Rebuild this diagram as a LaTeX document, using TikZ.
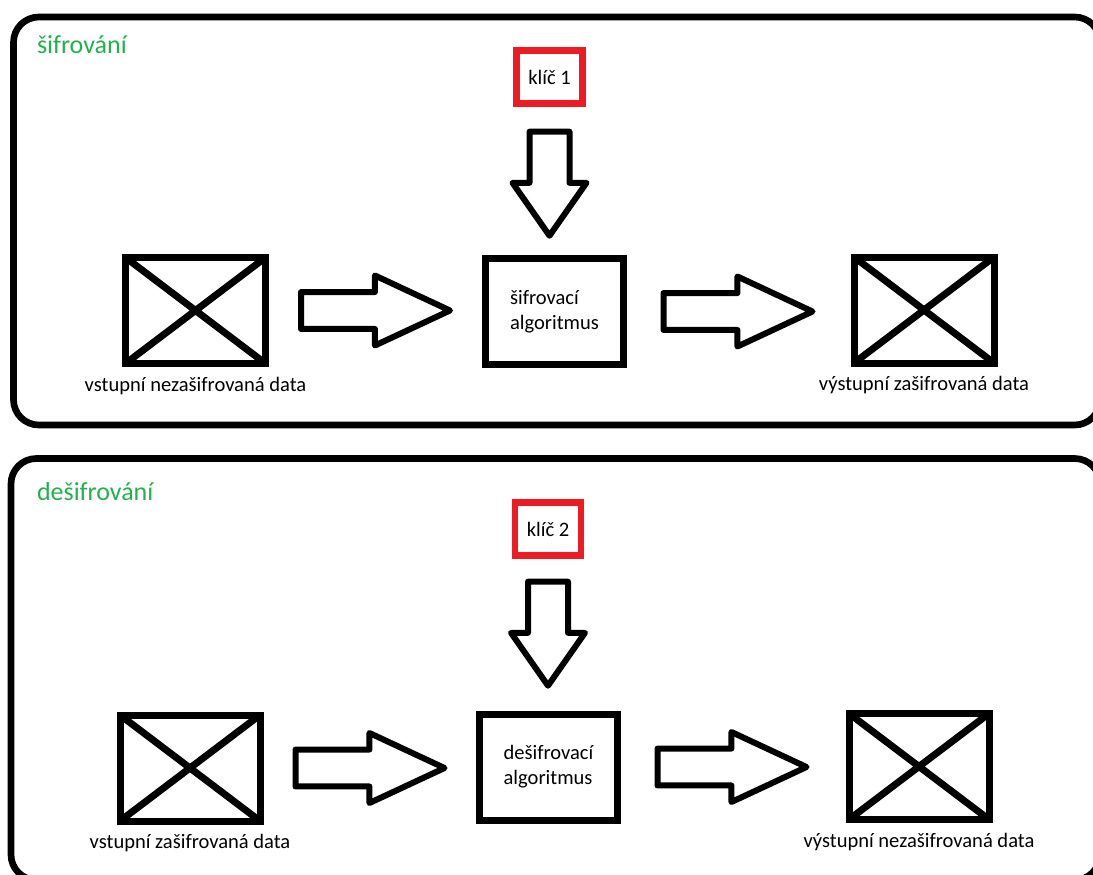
\documentclass[tikz,border=0pt]{standalone}
\usepackage{fontspec}
\setmainfont{Carlito}
\usetikzlibrary{positioning, calc, shapes.arrows}

\definecolor{keyred}{RGB}{237,28,36}
\definecolor{titlegreen}{RGB}{34,177,76}

\tikzset{
	every node/.style={outer sep=0pt},
	panel/.style={line width=5pt, rounded corners=19pt},
	paneltitle/.style={anchor=base west, inner sep=0pt, text=titlegreen, font=\fontsize{19.5}{23}\selectfont},
	databox/.style={draw, line width=5.25pt, minimum width=105pt, minimum height=79.5pt},
	algbox/.style={draw, line width=5.25pt, minimum width=103.5pt, minimum height=79.5pt, align=left},
	keybox/.style={draw=keyred, line width=5pt, minimum width=49.5pt, minimum height=40pt},
	crossline/.style={line width=5.25pt},
	caption/.style={inner sep=0pt},
	flowarrow/.style={draw, single arrow, anchor=tail, line width=4.5pt, line join=round, inner xsep=0pt},
	rightarrow/.style={flowarrow, minimum height=111.75pt, minimum width=48pt, inner ysep=11.6pt, single arrow head extend=12.4pt, single arrow tip angle=50},
	downarrow/.style={flowarrow, rotate=-90, minimum height=78pt, minimum width=51pt, inner ysep=12.75pt, single arrow head extend=12.75pt, single arrow tip angle=70},
}

\begin{document}
\begin{tikzpicture}[x=0.75pt, y=-0.75pt, font=\fontsize{15.4}{18.75}\selectfont]
	\useasboundingbox (0,0) rectangle (1093,875);

	% encryption
	\draw[panel] (13.5,17) rectangle (1100,425);
	\node[paneltitle] (enctitle) at (37,53) {šifrování};

	\node[keybox] (key1) at (549.5,77) {klíč 1};
	\node[algbox] (alg1) at (554.5,311.5) {šifrovací\\algoritmus};
	\node[databox] (in1) at (195.5,310.5) {};
	\node[databox] (out1) at (924,310) {};
	\node[caption, below=10pt of in1] (in1label) {vstupní nezašifrovaná data};
	\node[caption, below=10pt of out1] (out1label) {výstupní zašifrovaná data};

	\draw[crossline] (in1.north west) -- (in1.south east) (in1.south west) -- (in1.north east);
	\draw[crossline] (out1.north west) -- (out1.south east) (out1.south west) -- (out1.north east);

	\node[downarrow] (k1arrow) at ($(key1.south)+(0,28)$) {};
	\node[rightarrow] (in1arrow) at ($(in1.east)+(35.5,0)$) {};
	\node[rightarrow] (out1arrow) at ($(alg1.east)+(40,0)$) {};

	% decryption
	\draw[panel] (11,458.5) rectangle (1100,880);
	\node[paneltitle] (dectitle) at (37,500) {dešifrování};

	\node[keybox] (key2) at (548,529) {klíč 2};
	\node[algbox] (alg2) at (548.5,767) {dešifrovací\\algoritmus};
	\node[databox] (in2) at (190,768) {};
	\node[databox] (out2) at (919,766.5) {};
	\node[caption, below=10pt of in2] (in2label) {vstupní zašifrovaná data};
	\node[caption, below=10pt of out2] (out2label) {výstupní nezašifrovaná data};

	\draw[crossline] (in2.north west) -- (in2.south east) (in2.south west) -- (in2.north east);
	\draw[crossline] (out2.north west) -- (out2.south east) (out2.south west) -- (out2.north east);

	\node[downarrow] (k2arrow) at ($(key2.south)+(0,26)$) {};
	\node[rightarrow] (in2arrow) at ($(in2.east)+(35.5,0)$) {};
	\node[rightarrow] (out2arrow) at ($(alg2.east)+(40,0)$) {};
\end{tikzpicture}
\end{document}
